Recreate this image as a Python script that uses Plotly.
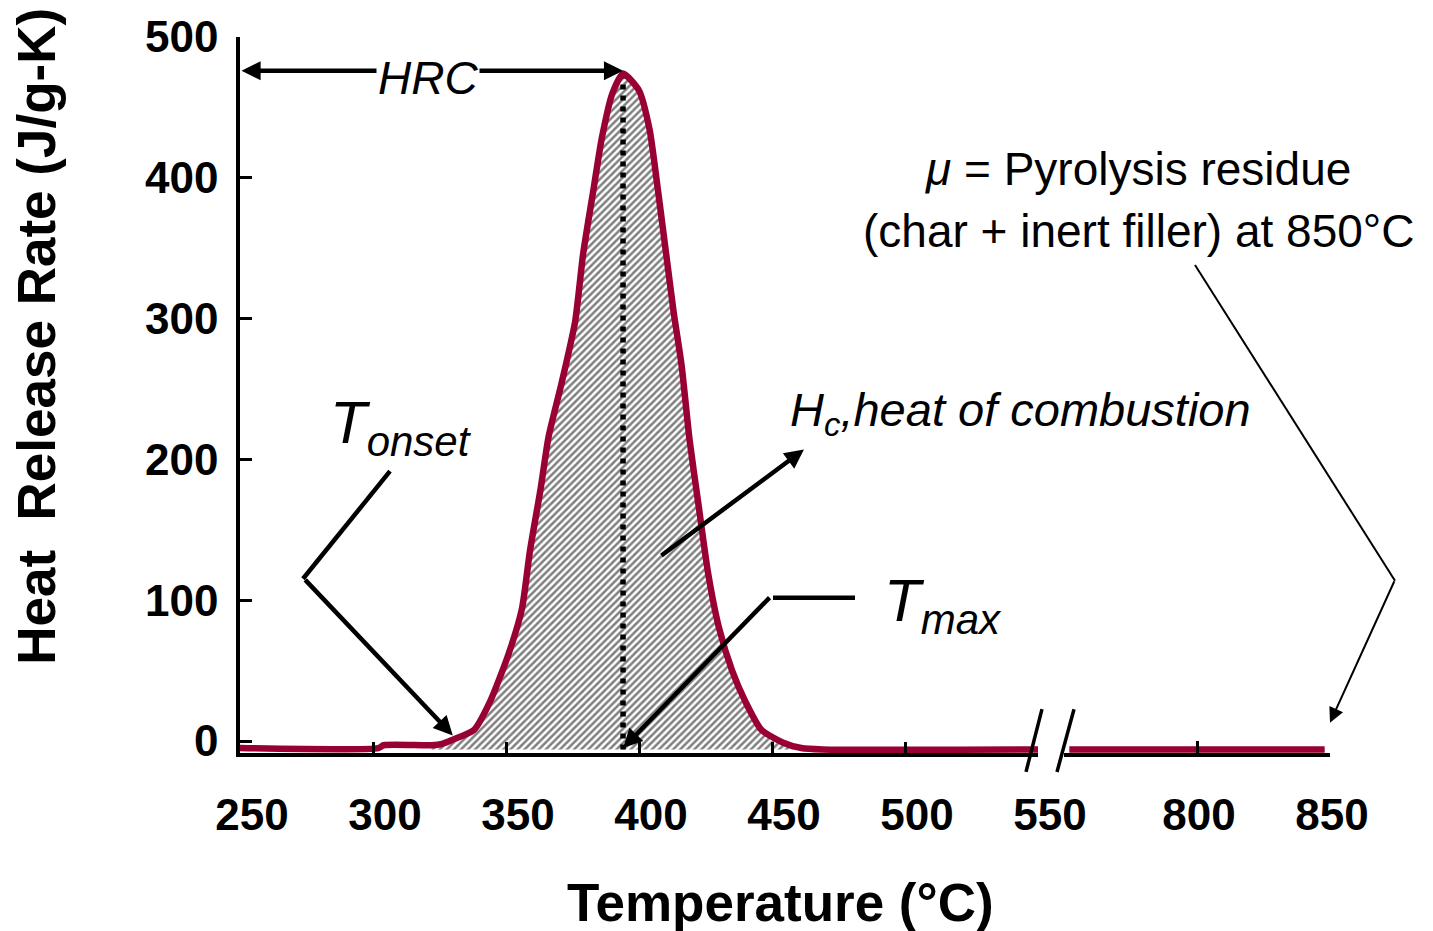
import plotly.graph_objects as go

# Heat release rate curve, low-temperature segment (°C, J/g-K)
temp_low = [250, 302, 304, 322, 326, 330, 338, 344, 351, 356,
            359, 363, 366, 371, 376, 379, 383, 386, 390, 394,
            400, 404, 407, 410, 413, 416, 419, 422.5, 426, 430,
            435, 440, 446, 454, 461, 469, 550]
hrr_low = [-5, -5, -3, -3, -2, 1, 8, 28, 62, 94,
           135, 179, 216, 255, 298, 346, 393, 428, 460, 474,
           462, 434, 393, 349, 305, 267, 214, 166, 119, 81,
           50, 28, 8, -1, -5, -6, -6]

# High-temperature segment after the axis break
temp_high = [752, 848]
hrr_high = [-6, -6]

# Axis ticks
x_ticks_low = [250, 300, 350, 400, 450, 500, 550]
x_minor_low = [300, 350, 400, 450, 500]
x_ticks_high = [800, 850]
y_ticks = [0, 100, 200, 300, 400, 500]

T_onset = 330

FONT = "Liberation Sans, Arial, Helvetica, sans-serif"
MAROON = "#990033"
W, H = 1433, 931
ML, MR, MT, MB = 240, 103, 34, 178
PW, PH = W - ML - MR, H - MT - MB


def px(x):
    return (x - ML) / PW


def py(y):
    return (H - MB - y) / PH


i_peak = hrr_low.index(max(hrr_low))
T_peak, hrr_peak = temp_low[i_peak], hrr_low[i_peak]
base = min(hrr_low)

# hatched area under the peak
sel = [i for i, t in enumerate(temp_low) if 322 <= t <= 469]
fill_x = [temp_low[i] for i in sel] + [temp_low[sel[-1]], temp_low[sel[0]]]
fill_y = [hrr_low[i] for i in sel] + [base, base]

fig = go.Figure()
fig.add_trace(go.Scatter(
    x=fill_x, y=fill_y, fill="toself", mode="none",
    fillpattern=dict(shape="/", fgcolor="black", bgcolor="rgba(0,0,0,0)",
                     size=5, solidity=0.5),
    hoverinfo="skip", showlegend=False))
fig.add_trace(go.Scatter(
    x=[T_peak, T_peak], y=[base, hrr_peak], mode="lines",
    line=dict(color="black", width=5.5, dash="5px,6px"),
    showlegend=False))
fig.add_trace(go.Scatter(
    x=temp_low, y=hrr_low, mode="lines",
    line=dict(color=MAROON, width=6.5, shape="spline", smoothing=0.6),
    showlegend=False))
fig.add_trace(go.Scatter(
    x=temp_high, y=hrr_high, mode="lines", xaxis="x2", yaxis="y",
    line=dict(color=MAROON, width=6.5), showlegend=False))

tickfont = dict(family=FONT, size=44, color="black", weight="bold")

fig.update_layout(
    width=W, height=H,
    margin=dict(l=ML, r=MR, t=MT, b=MB),
    paper_bgcolor="white", plot_bgcolor="white",
    showlegend=False,
    xaxis=dict(
        domain=[0, px(1038)], range=[250, 550],
        tickvals=x_ticks_low, ticktext=[str(v) for v in x_ticks_low],
        ticks="", showgrid=False, zeroline=False,
        showline=True, linecolor="black", linewidth=4,
        tickfont=tickfont, ticklabelshift=12, ticklabelstandoff=20,
        minor=dict(tickvals=x_minor_low, ticks="inside", ticklen=11,
                   tickwidth=3, tickcolor="black"),
    ),
    xaxis2=dict(
        domain=[px(1064), 1.0], range=[750, 850], anchor="y",
        tickvals=x_ticks_high, ticktext=[str(v) for v in x_ticks_high],
        ticks="inside", ticklen=12, tickwidth=3, tickcolor="black",
        showgrid=False, zeroline=False,
        showline=True, linecolor="black", linewidth=4,
        tickfont=tickfont, ticklabelshift=2, ticklabelstandoff=20,
    ),
    yaxis=dict(
        range=[-8.5, 500], tickvals=y_ticks,
        ticks="inside", ticklen=12, tickwidth=3, tickcolor="black",
        showgrid=False, zeroline=False,
        showline=True, linecolor="black", linewidth=3.5,
        tickfont=tickfont, ticklabelstandoff=9,
    ),
)


def label(x, y, text, size, xanchor="center", **kw):
    return dict(x=px(x), y=py(y), xref="paper", yref="paper",
                xanchor=xanchor, yanchor="middle", text=text, showarrow=False,
                font=dict(family=FONT, size=size, color="black"), **kw)


def pointer(x, y, ax, ay, width=4.5, size=0.85, **kw):
    return dict(x=x, y=y, ax=ax, ay=ay, text="", showarrow=True,
                arrowhead=2, arrowwidth=width, arrowsize=size,
                arrowcolor="black", **kw)


anns = []
# HRC double-headed arrow
anns.append(dict(x=T_peak, y=hrr_peak + 2, xref="x", yref="y",
                 ax=250, ay=hrr_peak + 2, axref="x", ayref="y",
                 text="", showarrow=True, arrowhead=2, startarrowhead=2,
                 arrowside="end+start", arrowwidth=4.5, arrowsize=0.85,
                 startarrowsize=0.85, arrowcolor="black"))
anns.append(label(428, 75, "<i>HRC</i>", 46, bgcolor="white"))
# T onset
anns.append(pointer(T_onset, 4, -149, -157, xref="x", yref="y"))
anns.append(label(328, 426, "<i>T<sub>onset</sub></i>", 60, xanchor="left"))
# heat of combustion
anns.append(pointer(462, 207, -144, 107, xref="x", yref="y"))
anns.append(label(788, 412, "<i>H<sub>c</sub>,heat of combustion</i>", 47,
                  xanchor="left"))
# T max
anns.append(pointer(T_peak, -5, 148, -152, xref="x", yref="y"))
anns.append(label(882, 604, "<i>T<sub>max</sub></i>", 60, xanchor="left"))
# residue note
anns.append(label(1138, 167, "<i>μ</i> = Pyrolysis residue", 46))
anns.append(label(1138, 229, "(char + inert filler) at 850°C", 46))
anns.append(pointer(850, 13, 65, -143, width=2, size=1.5,
                    xref="x2", yref="y"))
# axis titles
anns.append(label(780, 903, "<b>Temperature (°C)</b>", 53))
anns.append(label(37, 335, "<b>Heat\u00a0 Release Rate (J/g-K)</b>", 53,
                  textangle=-90))
fig.update_layout(annotations=anns)

shapes = []
# elbow segments of the callouts
shapes.append(dict(type="line", xref="paper", yref="paper",
                   x0=px(390), y0=py(470), x1=px(303), y1=py(578),
                   line=dict(color="black", width=4.5)))
shapes.append(dict(type="line", xref="paper", yref="paper",
                   x0=px(855), y0=py(597), x1=px(773), y1=py(597),
                   line=dict(color="black", width=4.5)))
shapes.append(dict(type="line", xref="paper", yref="paper",
                   x0=px(1195), y0=py(263), x1=px(1395), y1=py(580),
                   line=dict(color="black", width=2)))
# axis break marks
for x0, x1 in [(1026, 1042), (1057, 1074)]:
    shapes.append(dict(type="line", xref="paper", yref="paper",
                       x0=px(x0), y0=py(772), x1=px(x1), y1=py(709),
                       line=dict(color="black", width=3.5)))
fig.update_layout(shapes=shapes)

fig.write_html("out.html")
